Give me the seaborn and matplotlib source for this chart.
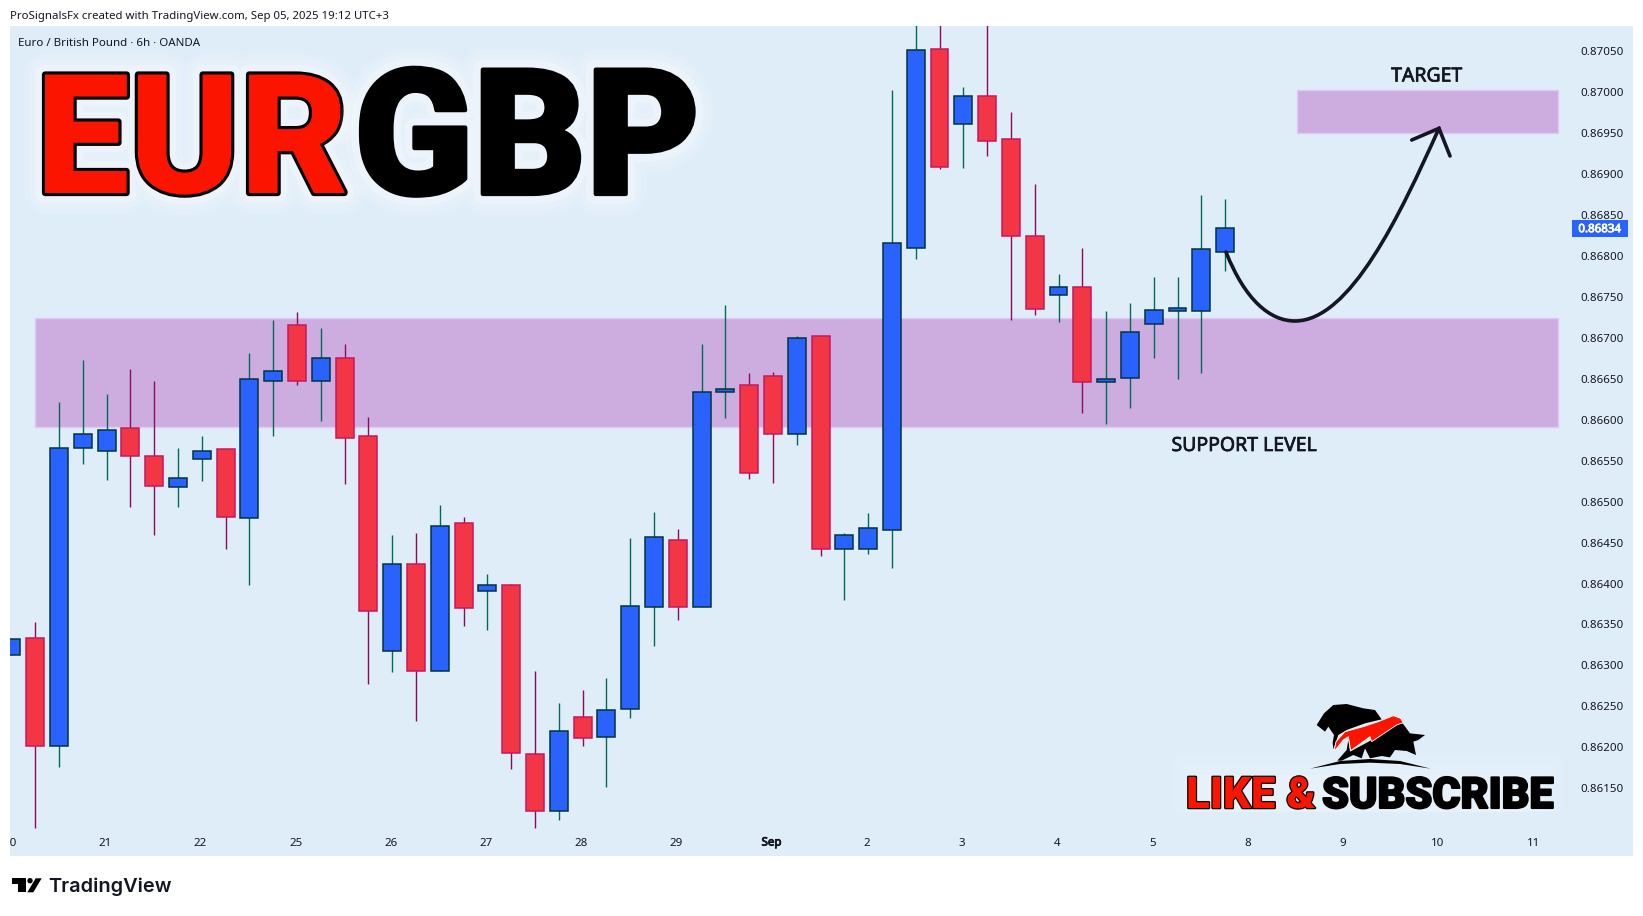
import matplotlib
matplotlib.use("Agg")
import matplotlib.pyplot as plt
import matplotlib.patheffects as pe
from matplotlib.patches import Circle, PathPatch, Polygon, Rectangle
from matplotlib.path import Path
from matplotlib.transforms import Affine2D
import numpy as np
import seaborn as sns

# Candles (6h bars, EUR/GBP)
opens = [0.863123, 0.863332, 0.862011, 0.865653, 0.865613, 0.865897, 0.865552, 0.865177,
         0.865517, 0.865640, 0.864798, 0.866468, 0.867153, 0.866468, 0.866752, 0.865797,
         0.863171, 0.864235, 0.862926, 0.864737, 0.863903, 0.863978, 0.861915, 0.861217,
         0.862365, 0.862129, 0.862471, 0.863709, 0.864527, 0.863709, 0.866333, 0.866420,
         0.866531, 0.865831, 0.867019, 0.864425, 0.864425, 0.864648, 0.868100, 0.870534,
         0.869617, 0.869960, 0.869424, 0.868240, 0.867521, 0.867617, 0.866463, 0.866516,
         0.867173, 0.867333, 0.867333, 0.868052]
closes = [0.863319, 0.862011, 0.865653, 0.865823, 0.865871, 0.865552, 0.865186, 0.865286,
          0.865613, 0.864811, 0.866494, 0.866590, 0.866468, 0.866752, 0.865775, 0.863659,
          0.864235, 0.862926, 0.864697, 0.863699, 0.863978, 0.861928, 0.861217, 0.862194,
          0.862109, 0.862451, 0.863721, 0.864564, 0.863709, 0.866333, 0.866381, 0.865353,
          0.865831, 0.867004, 0.864425, 0.864589, 0.864672, 0.868154, 0.870510, 0.869090,
          0.869960, 0.869409, 0.868250, 0.867357, 0.867617, 0.866463, 0.866492, 0.867067,
          0.867337, 0.867362, 0.868081, 0.868337]
highs = [0.863319, 0.863528, 0.866215, 0.866730, 0.866316, 0.866621, 0.866473, 0.865657,
         0.865801, 0.865640, 0.866817, 0.867218, 0.867314, 0.867123, 0.866926, 0.866032,
         0.864593, 0.864619, 0.864959, 0.864811, 0.864117, 0.863995, 0.862931, 0.862540,
         0.862699, 0.862846, 0.864556, 0.864873, 0.864661, 0.866927, 0.867400, 0.866570,
         0.866584, 0.867028, 0.867033, 0.864614, 0.864860, 0.870027, 0.870850, 0.870850,
         0.870066, 0.870850, 0.869757, 0.868878, 0.867782, 0.868096, 0.867328, 0.867424,
         0.867743, 0.867743, 0.868743, 0.868694]
lows = [0.863123, 0.861020, 0.861753, 0.865461, 0.865269, 0.864929, 0.864597, 0.864929,
        0.865256, 0.864427, 0.863986, 0.865805, 0.866429, 0.865988, 0.865221, 0.862778,
        0.862922, 0.862325, 0.862926, 0.863485, 0.863437, 0.861740, 0.861020, 0.861116,
        0.862019, 0.861519, 0.862361, 0.863241, 0.863558, 0.863709, 0.866024, 0.865280,
        0.865222, 0.865691, 0.864338, 0.863798, 0.864358, 0.864184, 0.867965, 0.869057,
        0.869076, 0.869221, 0.867221, 0.867279, 0.867197, 0.866082, 0.865947, 0.866145,
        0.866753, 0.866497, 0.866565, 0.867811]

price_ticks = [0.8615, 0.8620, 0.8625, 0.8630, 0.8635, 0.8640, 0.8645, 0.8650, 0.8655, 0.8660,
               0.8665, 0.8670, 0.8675, 0.8680, 0.8685, 0.8690, 0.8695, 0.8700, 0.8705]
day_ticks = [0, 4, 8, 12, 16, 20, 24, 28, 32, 36, 40, 44, 48, 52, 56, 60, 64]
day_labels = ["20", "21", "22", "25", "26", "27", "28", "29", "Sep", "2", "3", "4", "5", "8", "9", "10", "11"]
last_price = 0.86834

support_zone = (0.865912, 0.867237)
target_zone = (0.869499, 0.870024)
support_start = 1.0
zone_end = 65.0
target_start = 54.0

PANE = "#dfedf9"
ZONE = "#cdaddf"
ZONE_EDGE = "#e2c9f5"
INK = "#131722"

sns.set_theme(style="white")
plt.rcParams["font.family"] = ["Noto Sans", "DejaVu Sans"]

W, H = 1643, 916
fig = plt.figure(figsize=(W / 100, H / 100), dpi=100, facecolor="white")
ax = fig.add_axes([10 / W, 1 - 856 / H, 1623 / W, 830 / H], facecolor=PANE)
sns.despine(ax=ax, left=True, right=True, top=True, bottom=True)

# pixel coordinates of the picture, for the drawn annotations
px = Affine2D().scale(1 / W, -1 / H).translate(0, 1) + fig.transFigure

idx = np.arange(len(opens))
o, c, hi, lo = map(np.array, (opens, closes, highs, lows))
up = c >= o

# zones
for start, (z0, z1) in ((support_start, support_zone), (target_start, target_zone)):
    ax.add_patch(Rectangle((start, z0), zone_end - start, z1 - z0, facecolor=ZONE,
                           edgecolor=ZONE_EDGE, linewidth=1, zorder=1))

# wicks
ax.vlines(idx[up], lo[up], hi[up], color="#006a56", linewidth=1, zorder=2)
ax.vlines(idx[~up], lo[~up], hi[~up], color="#8e0b58", linewidth=1, zorder=2)

# bodies
sns.barplot(x=idx[up], y=(c - o)[up], bottom=o[up], native_scale=True, width=0.75, errorbar=None,
            color="#2962ff", saturation=1, edgecolor="#00363f", linewidth=1.1, zorder=3, ax=ax)
sns.barplot(x=idx[~up], y=(o - c)[~up], bottom=c[~up], native_scale=True, width=0.75, errorbar=None,
            color="#f23645", saturation=1, edgecolor="#c9175f", linewidth=1.1, zorder=3, ax=ax)

ax.set_xlim((10 - 8.6) / 23.84, (1633 - 8.6) / 23.84)
ax.set_ylim(0.860672, 0.870809)
ax.set_xlabel("")
ax.set_ylabel("")

# axes labels sit inside the pane like on TradingView
ax.yaxis.tick_right()
ax.set_yticks(price_ticks)
ax.set_yticklabels([f"{p:.5f}" for p in price_ticks], ha="left")
ax.tick_params(axis="y", length=0, pad=-38, labelsize=8.3, labelcolor=INK)
ax.set_xticks(np.array(day_ticks) - 0.06)
ax.set_xticklabels(day_labels)
ax.tick_params(axis="x", length=0, pad=-13.3, labelsize=8.3, labelcolor=INK)
for lab in ax.get_xticklabels():
    lab.set_clip_on(True)
    lab.set_clip_box(ax.bbox)
    if lab.get_text() == "Sep":
        lab.set_path_effects([pe.withStroke(linewidth=0.6, foreground=INK)])

# last price tag
tag = ax.get_yaxis_transform()
ax.add_patch(Rectangle(((1572 - 10) / 1623, last_price - 0.000102), 56 / 1623, 0.000204,
                       transform=tag, facecolor="#2962ff", edgecolor="none", zorder=5, clip_on=False))
ax.text((1600 - 10) / 1623, last_price, f"{last_price:.5f}", transform=tag, color="white",
        fontsize=8.3, ha="center", va="center_baseline", zorder=6,
        path_effects=[pe.withStroke(linewidth=0.6, foreground="white")])

heavy = [pe.withStroke(linewidth=0.5, foreground=INK)]
ax.text(1426.7, 76.5, "TARGET", transform=px, fontsize=14, color=INK, ha="center", va="center", zorder=6,
        path_effects=heavy)
ax.text(1244, 446, "SUPPORT LEVEL", transform=px, fontsize=14, color=INK, ha="center", va="center", zorder=6,
        path_effects=heavy)

# drawn arrow
curve = Path([(1226, 252), (1245, 300), (1270, 321), (1295, 321), (1350, 321), (1400, 215), (1439, 128.3)],
             [Path.MOVETO, Path.CURVE4, Path.CURVE4, Path.CURVE4, Path.CURVE4, Path.CURVE4, Path.CURVE4])
ax.add_patch(PathPatch(curve, transform=px, facecolor="none", edgecolor=INK, linewidth=2.6, zorder=6,
                       capstyle="round", clip_on=False))
ax.plot([1411.7, 1439, 1450], [140, 128.3, 156], transform=px, color=INK, linewidth=2.6, zorder=6,
        solid_joinstyle="miter")

# headline
glow = [pe.withStroke(linewidth=w, foreground="white", alpha=a) for w, a in ((30, 0.10), (22, 0.16), (14, 0.25))]
head = dict(family="Roboto", fontweight="black", va="baseline", ha="left", zorder=7, transform=px)
ax.text(36, 193, "EUR", color="#fb1500", fontsize=120,
        path_effects=glow + [pe.withStroke(linewidth=4.5, foreground="black")], **head)
ax.text(354, 194, "GBP", color="black", fontsize=126,
        path_effects=glow + [pe.withStroke(linewidth=3, foreground="black")], **head)

# subscribe badge
for inset, alpha in ((0, 0.06), (6, 0.08), (12, 0.10), (18, 0.10)):
    ax.add_patch(Rectangle((1172 + inset, 757 + inset), 390 - 2 * inset, 55 - inset, transform=px,
                           facecolor="white", edgecolor="none", alpha=alpha, zorder=4))
sub = dict(family="Roboto", fontweight="black", va="baseline", ha="left", zorder=7, transform=px)
ax.text(1186, 808, "LIKE &", color="#fb1500", fontsize=31.5,
        path_effects=[pe.withStroke(linewidth=1.8, foreground="black")], **sub)
ax.text(1322, 808, "SUBSCRIBE", color="black", fontsize=31,
        path_effects=[pe.withStroke(linewidth=1.5, foreground="black")], **sub)


def logo_poly(points, color, edge="none"):
    # points in the 3x crop at (1250, 690)
    xy = [(1250 + a / 3, 690 + b / 3) for a, b in points]
    ax.add_patch(Polygon(xy, closed=True, transform=px, facecolor=color, edgecolor=edge, linewidth=0.6,
                         zorder=7, clip_on=False))


logo_poly([(200, 105), (222, 70), (250, 45), (290, 42), (340, 55), (375, 60), (395, 88), (345, 100),
           (290, 120), (265, 135), (250, 178), (248, 158), (252, 135), (235, 110), (225, 125)], "black")
logo_poly([(300, 185), (365, 150), (440, 100), (458, 100), (480, 130), (525, 135), (505, 150), (490, 155),
           (498, 195), (470, 183), (435, 180), (420, 202), (395, 198), (360, 205), (345, 175), (335, 205),
           (310, 195), (275, 212), (262, 212), (290, 180), (295, 150)], "black")
logo_poly([(180, 236), (270, 213), (360, 207), (450, 213), (542, 236), (450, 222), (360, 218), (270, 222)], "black")
logo_poly([(252, 185), (258, 155), (285, 125), (340, 110), (385, 95), (430, 77), (452, 85), (460, 98), (440, 105),
           (365, 155), (360, 140), (302, 182), (295, 140), (280, 150)], "#fb1500", "white")

# header, pane title, TradingView mark
fig.text(10 / W, 1 - 16 / H, "ProSignalsFx created with TradingView.com, Sep 05, 2025 19:12 UTC+3",
         fontsize=8.2, color=INK, va="center")
ax.text(18, 43, "Euro / British Pound · 6h · OANDA", transform=px, fontsize=8.3, color=INK, va="center", zorder=6)

ax.add_patch(Polygon([(12.3, 878.3), (26, 878.3), (26, 892.3), (18.3, 892.3), (18.3, 884.3), (12.3, 884.3)],
                     transform=px, facecolor="black", edgecolor="none", clip_on=False))
ax.add_patch(Circle((30, 880.7), 2.7, transform=px, facecolor="black", edgecolor="none", clip_on=False))
ax.add_patch(Polygon([(27.3, 892.3), (35.7, 878.3), (41.7, 878.3), (33.3, 892.3)],
                     transform=px, facecolor="black", edgecolor="none", clip_on=False))
fig.text(48 / W, 1 - 892.3 / H, "TradingView", fontsize=14.4, family="Inter", fontweight="semibold",
         color="#131722", va="baseline")

fig.savefig("out.png", dpi=100, facecolor="white")
